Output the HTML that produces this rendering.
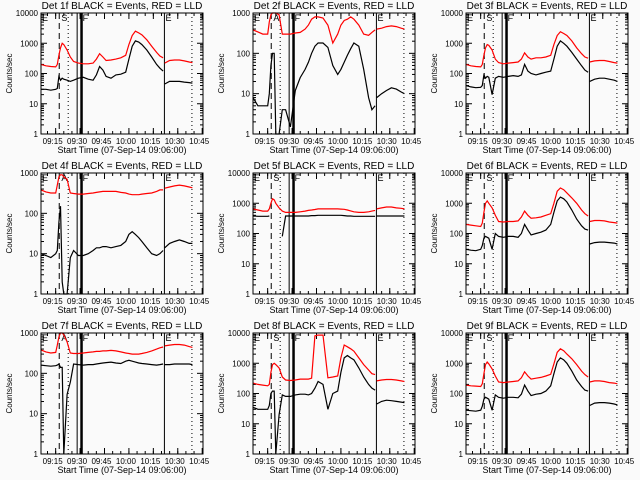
<!DOCTYPE html>
<html><head><meta charset="utf-8"><style>
html,body{margin:0;padding:0;background:#fafafa;}
svg{display:block;font-family:"Liberation Sans",sans-serif;}
</style></head><body>
<svg id="chart" width="640" height="480" viewBox="0 0 640 480" xmlns="http://www.w3.org/2000/svg">
<rect x="0" y="0" width="640" height="480" fill="#fafafa"/>
</svg>
<script>
const times=[0,3,6,9,10,11,12,13,14,16,18,20,23,26,29,32,34,36,38,40,43,46,49,52,54,56,58,60,62,65,68,71,73,75,76,79,82,85,88,91,93];
const tickLabels=["09:15","09:30","09:45","10:00","10:15","10:30","10:45"];
const tickMinutes=[9,24,39,54,69,84,99];
const detNames=["1f","2f","3f","4f","5f","6f","7f","8f","9f"];
const decades=[4,3,4,3,4,4,3,4,4];
const red1=[200,180,170,165,200,400,700,1000,900,600,350,250,220,210,210,220,300,450,350,270,280,300,330,400,900,1800,2500,2200,1900,1300,800,500,380,330,220,270,280,280,260,240,230];
const black1=[30,30,28,30,32,80,60,70,65,60,55,60,70,75,65,60,90,170,130,80,70,90,95,110,300,800,1200,1100,900,600,350,200,150,120,45,55,55,55,52,50,48];
const red2=[380,340,300,300,600,900,1000,1000,1000,900,300,300,300,320,330,400,500,700,800,800,750,500,180,300,500,650,700,800,700,500,300,280,330,380,400,420,460,480,460,420,400];
const black2=[8,5,5,5,10,50,100,100,1,1,4,4,1.5,12,25,40,60,100,150,180,180,140,50,30,40,60,90,130,180,150,40,8,4,5,8,10,12,14,13,11,10];
const red3=[200,180,170,165,200,400,700,900,850,600,300,230,210,220,230,240,300,480,350,300,330,330,350,400,900,1800,2400,2100,1800,1200,700,450,350,320,240,260,270,270,250,230,220];
const black3=[40,36,34,35,40,90,70,80,75,20,70,80,75,80,85,80,90,200,120,100,90,100,110,120,300,800,1200,1000,800,500,300,180,130,110,55,65,70,70,65,60,55];
const red4=[380,340,320,320,500,800,900,900,800,700,320,310,300,300,310,320,330,340,350,350,350,350,330,320,300,290,290,290,300,310,320,350,380,380,420,450,480,500,480,450,430];
const black4=[10,9,8,10,12,60,150,2,1,1,8,12,9,9,10,12,14,14,15,15,14,15,16,20,30,35,30,25,20,14,10,9,10,12,14,18,20,22,20,18,18];
const red5=[650,600,550,550,650,1000,1400,1300,1000,700,550,500,500,500,520,550,580,600,620,650,650,650,650,650,640,630,600,560,520,500,500,520,550,580,650,700,750,750,700,680,650];
const black5=[380,370,370,370,380,null,null,null,null,null,80,380,380,380,380,380,380,390,390,400,400,400,400,400,400,390,380,380,370,370,370,370,370,370,380,380,380,380,380,380,380];
const red6=[200,190,180,170,220,500,1000,1200,1000,700,400,250,240,250,250,260,350,550,400,320,330,350,400,450,1000,2500,3200,2800,2200,1500,1000,600,450,380,250,270,270,260,240,230,220];
const black6=[30,28,27,30,40,70,80,75,70,30,100,80,75,80,80,75,100,200,130,90,100,110,130,200,500,1200,1600,1400,1100,600,300,180,140,130,45,50,52,52,50,48,45];
const red7=[380,340,320,330,500,800,1000,1000,900,600,320,310,310,320,330,340,350,350,360,360,370,360,340,320,310,300,300,300,310,330,360,400,430,450,480,500,520,520,500,460,440];
const black7=[160,155,150,155,160,170,140,140,1,30,60,170,165,160,165,165,170,175,180,185,190,180,175,200,210,200,190,180,175,170,165,160,165,170,165,165,170,170,170,170,165];
const red8=[220,200,190,180,200,500,900,1000,900,700,350,280,270,280,300,300,300,320,8000,8500,8500,330,350,380,1500,4000,3500,3000,2500,1500,900,600,450,420,260,280,290,290,280,260,250];
const black8=[35,30,30,30,40,100,120,120,1,20,90,80,80,90,95,95,90,100,150,250,200,30,100,120,500,1500,1800,1500,1300,700,350,200,150,130,45,55,60,58,55,52,50];
const red9=[190,180,175,170,210,450,900,1100,950,650,380,240,230,240,250,260,330,520,380,300,320,340,380,430,950,2300,3000,2600,2000,1400,900,550,420,350,240,260,260,250,230,220,210];
const black9=[28,27,26,28,38,65,75,70,65,28,90,75,70,75,75,72,95,190,120,85,95,100,120,180,450,1100,1500,1300,1000,550,280,170,130,120,40,48,50,50,48,45,42];
const redSeries=[red1,red2,red3,red4,red5,red6,red7,red8,red9];
const blackSeries=[black1,black2,black3,black4,black5,black6,black7,black8,black9];
const markerMinutes=[11.2,16.7,22.2,24.9,75.8,92.7];

const svg=document.getElementById('chart');
const NS='http://www.w3.org/2000/svg';
function mk(tag,attrs,parent){const e=document.createElementNS(NS,tag);for(const k in attrs)e.setAttribute(k,attrs[k]);(parent||svg).appendChild(e);return e;}

for(let p=0;p<9;p++){
  const col=p%3,row=Math.floor(p/3);
  const L=[41,253,466][col],R=L+162,T=[13,173,333][row],B=T+121;
  const dec=decades[p];
  const xs=t=>L+(R-L)*t/99.5;
  const ys=v=>B-(B-T)*Math.log10(Math.max(v,1))/dec;
  const g=mk('g',{});
  
  
  const title=mk('text',{x:(L+R)/2,y:T-4,'font-size':'10','text-anchor':'middle',fill:'#000'},g);
  title.textContent='Det '+detNames[p]+' BLACK = Events, RED = LLD';
  
  
  // y ticks
  for(let d=0;d<=dec;d++){
    const y=ys(Math.pow(10,d));
    const lb=mk('text',{x:L-3,y:y+3,'font-size':'8','text-anchor':'end',fill:'#000'},g);
    lb.textContent=String(Math.pow(10,d));
    
    
    mk('line',{x1:L,x2:L+6,y1:y,y2:y,stroke:'#000','stroke-width':1},g);
    mk('line',{x1:R,x2:R-6,y1:y,y2:y,stroke:'#000','stroke-width':1},g);
    if(d<dec){for(let m=2;m<10;m++){const ym=ys(m*Math.pow(10,d));
      mk('line',{x1:L,x2:L+3,y1:ym,y2:ym,stroke:'#000','stroke-width':1},g);
      mk('line',{x1:R,x2:R-3,y1:ym,y2:ym,stroke:'#000','stroke-width':1},g);}}
  }
  const yl=mk('text',{x:0,y:0,'font-size':'8','text-anchor':'middle',fill:'#000',transform:`translate(${L-29},${(T+B)/2}) rotate(-90)`},g);
  yl.textContent='Counts/sec';
  
  
  // x ticks
  for(let i=0;i<tickMinutes.length;i++){
    const x=xs(tickMinutes[i]);
    mk('line',{x1:x,x2:x,y1:B,y2:B-6,stroke:'#000'},g);
    mk('line',{x1:x,x2:x,y1:T,y2:T+6,stroke:'#000'},g);
    const lb=mk('text',{x:x-3,y:B+10,'font-size':'8','text-anchor':'middle',fill:'#000'},g);
    lb.textContent=tickLabels[i];
    
    
  }
  for(let m=4;m<99;m+=5){const x=xs(m);
    mk('line',{x1:x,x2:x,y1:B,y2:B-3,stroke:'#000'},g);
    mk('line',{x1:x,x2:x,y1:T,y2:T+3,stroke:'#000'},g);}
  const xt=mk('text',{x:(L+R)/2,y:B+19,'font-size':'9','text-anchor':'middle',fill:'#000'},g);
  xt.textContent='Start Time (07-Sep-14 09:06:00)';
  
  
  // marker lines
  const styles=[{d:'6,4',w:1},{d:'1,3',w:1},{d:'',w:1},{d:'',w:2.5},{d:'',w:1},{d:'1,3',w:1}];
  markerMinutes.forEach((m,i)=>{const x=xs(m);
    const ln=mk('line',{x1:x,x2:x,y1:T,y2:B,stroke:'#000','stroke-width':styles[i].w,'stroke-dasharray':styles[i].d},g);
    
    });
  const aLetter=(p===1||p===3||p===6)?'A':'S';
  [['E',xs(0.6)],[aLetter,xs(12.5)],['F',xs(25.6)],['E',xs(76.5)]].forEach(([s,x])=>{
    const t=mk('text',{x:x,y:T+8,'font-size':'9',fill:'#000'},g);t.textContent=s;
    
    });
  // series
  function draw(vals,color,name){
    let d='',pen=false;
    for(let i=0;i<times.length;i++){
      if(i===34)pen=false;
      const v=vals[i];
      if(v===null){pen=false;continue;}
      d+=(pen?'L':'M')+xs(times[i]).toFixed(1)+','+ys(v).toFixed(1);pen=true;
    }
    const path=mk('path',{d:d,fill:'none',stroke:color,'stroke-width':1.2},g);
    
    
  }
  draw(redSeries[p],'#ff0000','lld-rate-line');
  draw(blackSeries[p],'#000000','event-rate-line');
  const box=mk('rect',{x:L,y:T,width:R-L,height:B-T,fill:'none',stroke:'#000','stroke-width':1},g);
  
  
}
</script>
</body></html>
